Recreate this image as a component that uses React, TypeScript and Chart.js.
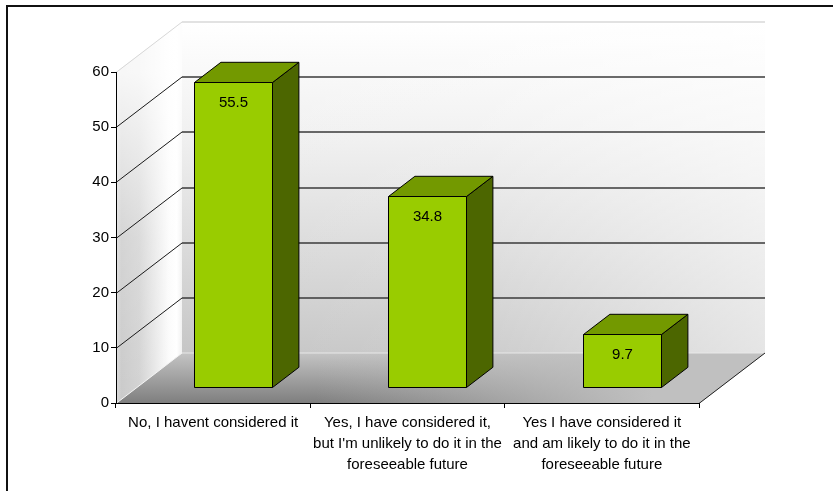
import React, { useEffect, useRef } from "react";
import { Chart, registerables } from "chart.js";

Chart.register(...registerables);

// ---- data ----
const categories: string[][] = [
  ["No, I havent considered it"],
  ["Yes, I have considered it,", "but I'm unlikely to do it in the", "foreseeable future"],
  ["Yes I have considered it", "and am likely to do it in the", "foreseeable future"],
];
const values: number[] = [55.5, 34.8, 9.7];
const yTicks: number[] = [0, 10, 20, 30, 40, 50, 60];
const valueLabels: string[] = ["55.5", "34.8", "9.7"];

// ---- style ----
const FONT = "'Liberation Sans', Arial, sans-serif";
const DX = 66;
const DY = -50.5;
const F0 = 0.3;
const F1 = 0.7;
const FRONT = "#99CC00";
const TOP = "#739900";
const SIDE = "#4C6600";

function poly(ctx: CanvasRenderingContext2D, pts: number[][], fill: any, stroke?: string, lw = 1) {
  ctx.beginPath();
  ctx.moveTo(pts[0][0], pts[0][1]);
  for (let i = 1; i < pts.length; i++) ctx.lineTo(pts[i][0], pts[i][1]);
  ctx.closePath();
  if (fill) {
    ctx.fillStyle = fill;
    ctx.fill();
  }
  if (stroke) {
    ctx.strokeStyle = stroke;
    ctx.lineWidth = lw;
    ctx.stroke();
  }
}

function line(ctx: CanvasRenderingContext2D, x1: number, y1: number, x2: number, y2: number, color: string, lw = 1) {
  ctx.beginPath();
  ctx.moveTo(x1, y1);
  ctx.lineTo(x2, y2);
  ctx.strokeStyle = color;
  ctx.lineWidth = lw;
  ctx.stroke();
}

const threeD = {
  id: "threeD",
  beforeDraw(chart: any) {
    const { ctx, chartArea, scales, width, height } = chart;
    const ys = scales.y;
    const L = chartArea.left;
    const R = chartArea.right;
    const y0 = Math.round(ys.getPixelForValue(0)) + 0.5;
    const yT = Math.round(ys.getPixelForValue(ys.max)) + 0.5;
    ctx.save();
    ctx.fillStyle = "#ffffff";
    ctx.fillRect(0, 0, width, height);
    // outer frame
    ctx.fillStyle = "#111";
    ctx.fillRect(6, 5, 2, height);
    ctx.fillRect(6, 5, width, 2);

    // back wall
    const bw = [[L + DX, yT + DY], [R + DX, yT + DY], [R + DX, y0 + DY], [L + DX, y0 + DY]];
    const gb = ctx.createLinearGradient(0, yT + DY, 0, y0 + DY);
    gb.addColorStop(0, "#ffffff");
    gb.addColorStop(0.35, "#f0f0f0");
    gb.addColorStop(1, "#c6c6c6");
    poly(ctx, bw, gb);
    const gb2 = ctx.createLinearGradient(L + DX, 0, R + DX, 0);
    gb2.addColorStop(0, "rgba(255,255,255,0)");
    gb2.addColorStop(0.5, "rgba(255,255,255,0.1)");
    gb2.addColorStop(1, "rgba(255,255,255,0.55)");
    poly(ctx, bw, gb2);

    // side wall
    const sw = [[L, yT], [L + DX, yT + DY], [L + DX, y0 + DY], [L, y0]];
    const gs = ctx.createLinearGradient(L, 0, L + DX, 0);
    gs.addColorStop(0, "#dcdcdc");
    gs.addColorStop(0.08, "#cacaca");
    gs.addColorStop(0.35, "#d2d2d2");
    gs.addColorStop(0.8, "#fbfbfb");
    gs.addColorStop(0.92, "#ffffff");
    gs.addColorStop(1, "#f0f0f0");
    poly(ctx, sw, gs);
    const gs2 = ctx.createLinearGradient(0, yT, 0, y0);
    gs2.addColorStop(0, "rgba(255,255,255,0.85)");
    gs2.addColorStop(0.5, "rgba(255,255,255,0.2)");
    gs2.addColorStop(1, "rgba(255,255,255,0)");
    poly(ctx, sw, gs2);

    // floor
    const fl = [[L, y0], [L + DX, y0 + DY], [R + DX, y0 + DY], [R, y0]];
    const gf = ctx.createLinearGradient(0, y0 + DY, 0, y0);
    gf.addColorStop(0, "#c4c4c4");
    gf.addColorStop(1, "#7e7e7e");
    poly(ctx, fl, gf);
    const gf2 = ctx.createLinearGradient(L + 200, 0, R + DX, 0);
    gf2.addColorStop(0, "rgba(192,192,192,0)");
    gf2.addColorStop(0.75, "rgba(192,192,192,1)");
    gf2.addColorStop(1, "rgba(192,192,192,1)");
    poly(ctx, fl, gf2);

    // gridlines
    yTicks.forEach((v) => {
      const yv = Math.round(ys.getPixelForValue(v)) + 0.5;
      const light = v === 0 || v === ys.max;
      const c = light ? (v === 0 ? "#f4f4f4" : "#d8d8d8") : "#1a1a1a";
      line(ctx, L, yv, L + DX, yv + DY, c, 1);
      if (v !== 0) line(ctx, L + DX, yv + DY, R + DX, yv + DY, light ? "#d8d8d8" : "#3a3a3a", 1.3);
      else line(ctx, L + DX, yv + DY, R + DX, yv + DY, "#e8e8e8", 1);
    });
    // floor right edge
    line(ctx, R, y0, R + DX, y0 + DY, "#222", 1);
    ctx.restore();
  },
  afterDatasetsDraw(chart: any) {
    const { ctx } = chart;
    const meta = chart.getDatasetMeta(0);
    ctx.save();
    ctx.lineJoin = "miter";
    meta.data.forEach((el: any, i: number) => {
      const p = el.getProps(["x", "y", "base", "width"], true);
      const fx = F0 * DX;
      const fy = F0 * DY;
      const bx = (F1 - F0) * DX;
      const by = (F1 - F0) * DY;
      const l = Math.round(p.x - p.width / 2 + fx) + 0.5;
      const r = Math.round(p.x + p.width / 2 + fx) + 0.5;
      const t = Math.round(p.y + fy) + 0.5;
      const b = Math.round(p.base + fy) + 0.5;
      poly(ctx, [[r, t], [r + bx, t + by], [r + bx, b + by], [r, b]], SIDE, "#000", 1);
      poly(ctx, [[l, t], [l + bx, t + by], [r + bx, t + by], [r, t]], TOP, "#000", 1);
      poly(ctx, [[l, t], [r, t], [r, b], [l, b]], FRONT, "#000", 1);
      ctx.fillStyle = "#000";
      ctx.font = "15px " + FONT;
      ctx.textAlign = "center";
      ctx.textBaseline = "middle";
      ctx.fillText(valueLabels[i], (l + r) / 2, t + 20);
    });
    ctx.restore();
  },
};

export default function App() {
  const ref = useRef<HTMLCanvasElement | null>(null);
  useEffect(() => {
    if (!ref.current) return;
    const chart = new Chart(ref.current, {
      type: "bar",
      data: {
        labels: categories as any,
        datasets: [
          {
            data: values,
            backgroundColor: "rgba(0,0,0,0)",
            borderWidth: 0,
            barPercentage: 0.4,
            categoryPercentage: 1.0,
          },
        ],
      },
      options: {
        responsive: false,
        animation: false,
        devicePixelRatio: 1,
        layout: { padding: { left: 0, top: 72, right: 134, bottom: 0 } },
        plugins: { legend: { display: false }, tooltip: { enabled: false } },
        scales: {
          x: {
            type: "category",
            grid: { drawOnChartArea: false, color: "#000", tickLength: 5, offset: true },
            border: { color: "#000", width: 1 },
            ticks: {
              color: "#000",
              font: { family: FONT, size: 15, lineHeight: 1.37 },
              maxRotation: 0,
              minRotation: 0,
              autoSkip: false,
              padding: 5,
            },
            afterFit: (s: any) => {
              s.height = 88;
            },
          },
          y: {
            min: 0,
            max: 60,
            afterBuildTicks: (s: any) => {
              s.ticks = yTicks.map((v) => ({ value: v }));
            },
            grid: { drawOnChartArea: false, color: "#000", tickLength: 5 },
            border: { color: "#000", width: 1 },
            ticks: {
              color: "#000",
              font: { family: FONT, size: 15 },
              padding: 2,
            },
            afterFit: (s: any) => {
              s.width = 116;
            },
          },
        },
      },
      plugins: [threeD],
    });
    return () => chart.destroy();
  }, []);
  return (
    <div style={{ position: "fixed", left: 0, top: 0, width: 833, height: 491 }}>
      <canvas ref={ref} width={833} height={491} style={{ display: "block", width: 833, height: 491 }} />
    </div>
  );
}
